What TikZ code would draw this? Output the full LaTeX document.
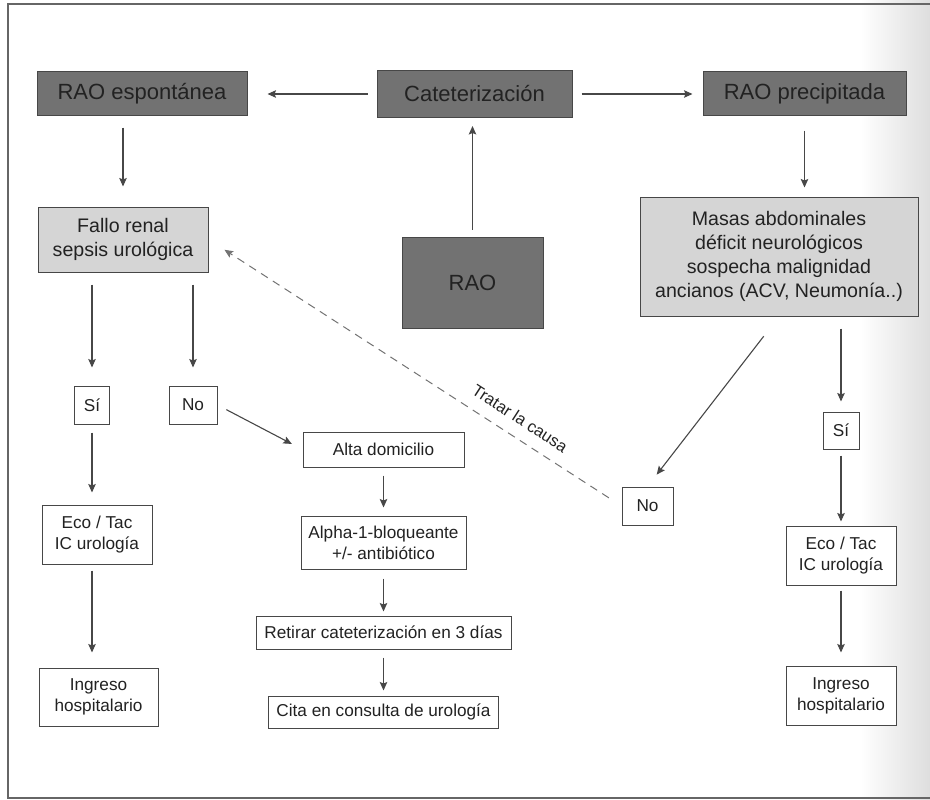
\documentclass[tikz,border=0pt]{standalone}
\usepackage{fontspec}
\setmainfont{Liberation Sans}
\usepackage{tikz}
\usetikzlibrary{arrows.meta}

\definecolor{darkfill}{HTML}{727272}
\definecolor{lightfill}{HTML}{D5D5D5}
\definecolor{linegray}{HTML}{474747}
\definecolor{textgray}{HTML}{222222}

\begin{document}
\begin{tikzpicture}[x=1pt,y=-1pt,->,>={Stealth[length=8.5pt,width=7.5pt,inset=1.5pt]},
  shorten >=8pt,shorten <=8pt,line width=1.1pt,color=linegray,
  every node/.style={text=textgray,align=center,inner sep=0pt},
  main/.style={draw=linegray,fill=darkfill,line width=1pt,font=\fontsize{22}{26}\selectfont},
  cond/.style={draw=linegray,fill=lightfill,line width=1pt,font=\fontsize{19.6}{24}\selectfont},
  act/.style={draw=linegray,fill=white,line width=1pt,font=\fontsize{17.2}{21}\selectfont},
  note/.style={font=\fontsize{16.5}{19}\selectfont}]
\useasboundingbox (0,0) rectangle (930,800);
\shade[left color=white,right color=black!13] (860,0) rectangle (930,800);
\draw[-,shorten >=0pt,shorten <=0pt,line width=1.3pt,color=black!60] (930,4) -- (8,4) -- (8,798) -- (930,798);

% top row
\node[main,minimum width=195pt,minimum height=47pt] (cat) at (474.5,94) {Cateterización};
\node[main,minimum width=210pt,minimum height=44pt,left of=cat,node distance=332.5pt] (esp) {RAO espontánea};
\node[main,minimum width=203pt,minimum height=44pt,right of=cat,node distance=330pt] (pre) {RAO precipitada};
\node[main,minimum width=141pt,minimum height=91pt] (rao) at (472.5,282.5) {RAO};
\node[cond,minimum width=170pt,minimum height=65pt] (fallo) at (123,239.5) {Fallo renal\\sepsis urológica};
\node[cond,minimum width=278pt,minimum height=119pt] (masas) at (779,256.5) {Masas abdominales\\déficit neurológicos\\sospecha malignidad\\ancianos (ACV, Neumonía..)};

% left branch
\node[act,minimum width=35pt,minimum height=38pt] (siL) at (92,405) {Sí};
\node[act,minimum width=48pt,minimum height=38pt,right of=siL,node distance=101pt] (noL) {No};
\node[act,minimum width=110pt,minimum height=59pt,below of=siL,node distance=129.5pt,xshift=5pt] (ecoL) {Eco / Tac\\IC urología};
\node[act,minimum width=119pt,minimum height=58pt,below of=ecoL,node distance=162.5pt,xshift=1.5pt] (ingL) {Ingreso\\hospitalario};

% middle branch
\node[act,minimum width=161pt,minimum height=35pt] (alta) at (383.5,449.5) {Alta domicilio};
\node[act,minimum width=165pt,minimum height=53pt,below of=alta,node distance=93pt] (alpha) {Alpha-1-bloqueante\\+/- antibiótico};
\node[act,minimum width=255pt,minimum height=33pt,below of=alpha,node distance=90pt] (retirar) {Retirar cateterización en 3 días};
\node[act,minimum width=230pt,minimum height=32pt,below of=retirar,node distance=79.5pt] (cita) {Cita en consulta de urología};

% right branch
\node[act,minimum width=51pt,minimum height=38pt] (noR) at (647.5,506) {No};
\node[act,minimum width=36pt,minimum height=37pt] (siR) at (841,430.5) {Sí};
\node[act,minimum width=110pt,minimum height=59pt,below of=siR,node distance=125pt] (ecoR) {Eco / Tac\\IC urología};
\node[act,minimum width=110pt,minimum height=59pt,below of=ecoR,node distance=140pt] (ingR) {Ingreso\\hospitalario};

\path (cat) edge[shorten <=9pt,shorten >=20pt] (esp)
(cat) edge[shorten <=9pt,shorten >=10pt] (pre)
(rao.north) edge[shorten <=7pt] (rao.north |- cat.south)
(esp.south -| fallo.north) edge[shorten <=11pt,shorten >=20pt] (fallo.north)
(pre.south) edge[shorten <=14pt,shorten >=9pt] (pre.south |- masas.north)
(fallo.south -| siL) edge[shorten <=12pt,shorten >=18pt] (siL)
(fallo.south -| noL) edge[shorten <=12pt,shorten >=18pt] (noL)
(siL) edge[shorten >=12pt] (siL |- ecoL.north)
(ecoL.south -| siL) edge[shorten <=6pt,shorten >=15pt] (siL |- ingL.north)
(noL.east) edge[shorten <=10pt,shorten >=12pt] (alta.west)
(alta) edge (alpha)
(alpha) edge[shorten <=9pt,shorten >=4pt] (retirar)
(retirar) edge[shorten >=5pt] (cita)
(masas.south -| siR) edge[shorten <=12pt,shorten >=10pt] (siR)
(siR) edge[shorten <=6pt,shorten >=4pt] (ecoR)
(ecoR) edge[shorten <=5pt,shorten >=13pt] (ingR)
(masas.south) edge[shorten <=25pt,shorten >=15pt] (noR.north)
(noR.west) edge[dashed,dash pattern=on 8pt off 6pt,line width=1pt,color=black!55,shorten <=15pt,shorten >=19pt]
  node[note,pos=0.27,above=12pt,sloped] {Tratar la causa} (fallo.east)
;\end{tikzpicture}
\end{document}
